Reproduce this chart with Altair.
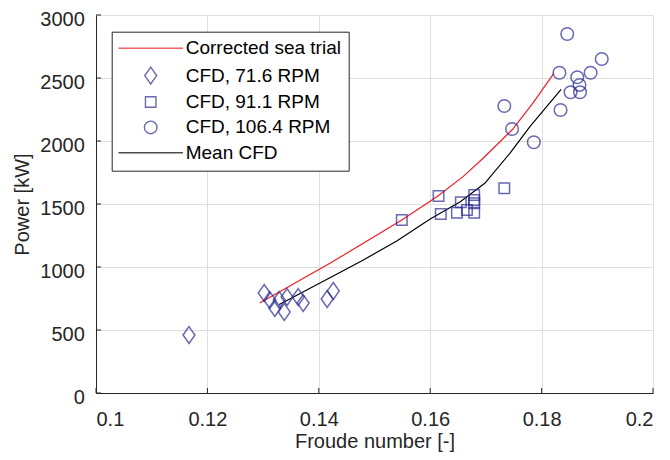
import altair as alt
import pandas as pd

# ---- data ----
series_names = ["Corrected sea trial", "CFD, 71.6 RPM", "CFD, 91.1 RPM",
                "CFD, 106.4 RPM", "Mean CFD"]

sea_x = [0.1294, 0.1420, 0.1549, 0.1612, 0.1659, 0.1695, 0.1748, 0.1785, 0.1822]
sea_y = [714, 1029, 1373, 1558, 1717, 1863, 2093, 2305, 2537]

mean_x = [0.1329, 0.1420, 0.1480, 0.1540, 0.1600, 0.1654, 0.1698, 0.1743, 0.1779, 0.1835]
mean_y = [702, 915, 1056, 1206, 1381, 1518, 1664, 1902, 2114, 2410]

d_x = [0.1167, 0.1302, 0.1312, 0.1321, 0.1329, 0.1338, 0.1343, 0.1363, 0.1372, 0.1415, 0.1426]
d_y = [460, 794, 738, 675, 738, 643, 762, 762, 714, 746, 810]

s_x = [0.1549, 0.1615, 0.1619, 0.1648, 0.1655, 0.1666, 0.1679, 0.1679, 0.1679, 0.1679, 0.1733]
s_y = [1373, 1564, 1421, 1431, 1514, 1452, 1572, 1532, 1506, 1431, 1625]

c_x = [0.1846, 0.1908, 0.1832, 0.1888, 0.1864, 0.1868, 0.1852, 0.1869, 0.1733, 0.1834, 0.1747, 0.1786]
c_y = [2849, 2651, 2542, 2542, 2506, 2445, 2387, 2387, 2278, 2246, 2095, 1990]

x_ticks = [0.1, 0.12, 0.14, 0.16, 0.18, 0.2]
y_ticks = [0, 500, 1000, 1500, 2000, 2500, 3000]

# ---- tables ----
lines_df = pd.concat([
    pd.DataFrame({"x": sea_x, "y": sea_y, "series": series_names[0]}),
    pd.DataFrame({"x": mean_x, "y": mean_y, "series": series_names[4]}),
])
points_df = pd.concat([
    pd.DataFrame({"x": d_x, "y": d_y, "series": series_names[1]}),
    pd.DataFrame({"x": s_x, "y": s_y, "series": series_names[2]}),
    pd.DataFrame({"x": c_x, "y": c_y, "series": series_names[3]}),
])
xt_df = pd.DataFrame({"x": x_ticks})
yt_df = pd.DataFrame({"y": y_ticks})

FONT = "Liberation Sans"
AX = "#262626"
BLUE = "#2A2A92"
RED = "#EE1D25"

line_path = "M-4.6,0H4.6"
diamond = "M0,-1.2L0.85,0L0,1.2L-0.85,0Z"
square = "M-0.75,-0.75H0.75V0.75H-0.75Z"
circle = "M0.9,0A0.9,0.9 0 1,1 -0.9,0A0.9,0.9 0 1,1 0.9,0Z"

color_scale = alt.Scale(domain=series_names, range=[RED, BLUE, BLUE, BLUE, "#000000"])
shape_scale = alt.Scale(domain=series_names,
                        range=[line_path, diamond, square, circle, line_path])

xenc = alt.X("x:Q", scale=alt.Scale(domain=[0.1, 0.2], nice=False),
             axis=alt.Axis(values=x_ticks, format="~g", title="Froude number [-]",
                           labelPadding=32, labelBaseline="alphabetic",
                           titleY=54, titleBaseline="alphabetic"))
yenc = alt.Y("y:Q", scale=alt.Scale(domain=[0, 3000], nice=False),
             axis=alt.Axis(values=y_ticks, format="d", title="Power [kW]",
                           labelPadding=11.7, labelBaseline="alphabetic",
                           labelOffset=10, titleX=-68, titleY=189,
                           titleBaseline="alphabetic"))

legend = alt.Legend(title=None, orient="none", legendX=15.7, legendY=16.7,
                    fillColor="white", strokeColor=AX, padding=7,
                    rowPadding=5.4, symbolSize=196, symbolStrokeWidth=1.4,
                    symbolOffset=22.5, labelOffset=25.5, labelFontSize=19,
                    labelFont=FONT, labelColor="#000000", labelLimit=0)

lines = alt.Chart(lines_df).mark_line(strokeWidth=1.2).encode(
    x=xenc, y=yenc,
    color=alt.Color("series:N", scale=color_scale, legend=legend),
)
points = alt.Chart(points_df).mark_point(filled=False, size=196, strokeWidth=1.5).encode(
    x=xenc, y=yenc,
    color=alt.Color("series:N", scale=color_scale, legend=legend),
    shape=alt.Shape("series:N", scale=shape_scale, legend=legend),
)
xticks = alt.Chart(xt_df).mark_rule(color=AX, strokeWidth=1).encode(
    x=xenc, y=alt.value(378), y2=alt.value(373))
yticks = alt.Chart(yt_df).mark_rule(color=AX, strokeWidth=1).encode(
    y=yenc, x=alt.value(0), x2=alt.value(5))

chart = alt.layer(xticks, yticks, lines, points).properties(
    width=557, height=378,
    padding={"left": 88, "top": 7, "right": 9, "bottom": 59},
    autosize=alt.AutoSizeParams(type="none"),
    background="white",
).configure_view(stroke=None).configure_axis(
    gridColor="#DFDFDF", gridWidth=1, domainColor=AX, domainWidth=1,
    tickSize=0, labelFont=FONT, titleFont=FONT, labelFontSize=20,
    titleFontSize=20, titleFontWeight="normal", labelColor=AX, titleColor=AX,
)

chart.save("out.html", embed_options={"renderer": "svg", "actions": False})
